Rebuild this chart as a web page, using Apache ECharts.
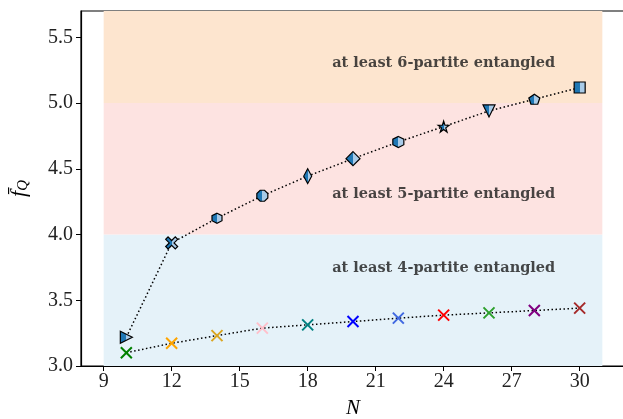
<!DOCTYPE html>
<html>
<head>
<meta charset="utf-8">
<script src="https://cdn.jsdelivr.net/npm/echarts@6/dist/echarts.min.js"></script>
<style>
  html, body { margin: 0; padding: 0; background: #ffffff; }
  #chart { width: 623px; height: 419px; }
</style>
</head>
<body>
<div id="chart"></div>
<script>
// Number of qubits N
const nValues = [10, 12, 14, 16, 18, 20, 22, 24, 26, 28, 30];
// Lower curve (cross markers)
const lowerValues = [3.101, 3.173, 3.231, 3.288, 3.313, 3.338, 3.364, 3.387, 3.404, 3.422, 3.440];
// Upper curve (half-filled markers)
const upperValues = [3.219, 3.936, 4.124, 4.295, 4.444, 4.577, 4.704, 4.821, 4.940, 5.029, 5.118];
// Entanglement depth regions: [from, to]
const regionBounds = [[3.0, 4.0], [4.0, 5.0], [5.0, 5.7]];
const regionTexts = ['at least 4-partite entangled', 'at least 5-partite entangled', 'at least 6-partite entangled'];
const regionTextX = [24, 24, 24];
const regionTextY = [3.74, 4.31, 5.30];
// Tick labels
const xTicks = [9, 12, 15, 18, 21, 24, 27, 30];
const yTicks = [3.0, 3.5, 4.0, 4.5, 5.0, 5.5];

// Styling
const crossColors = ['#008000', '#FFA500', '#DAA520', '#FFC0CB', '#008080', '#0000FF',
                     '#4169E1', '#FF0000', '#2CA02C', '#800080', '#A52A2A'];
const regionColors = ['#e5f2f9', '#fde3e1', '#fde5cf'];
const markerShapes = [
  'path://M0,0 L10,5 L0,10 Z',
  'path://M2,0 L5,3 L8,0 L10,2 L7,5 L10,8 L8,10 L5,7 L2,10 L0,8 L3,5 L0,2 Z',
  'path://M5,0 L9.33,2.5 L9.33,7.5 L5,10 L0.67,7.5 L0.67,2.5 Z',
  'path://M3,0 L7,0 L10,3 L10,7 L7,10 L3,10 L0,7 L0,3 Z',
  'path://M5,0 L10,5 L5,10 L0,5 Z',
  'path://M5,0 L10,5 L5,10 L0,5 Z',
  'path://M5,0 L9.33,2.5 L9.33,7.5 L5,10 L0.67,7.5 L0.67,2.5 Z',
  'path://M5,0 L6.18,3.82 L10,3.82 L6.91,6.18 L8.09,10 L5,7.64 L1.91,10 L3.09,6.18 L0,3.82 L3.82,3.82 Z',
  'path://M0,0 L10,0 L5,10 Z',
  'path://M5,0 L10,3.8 L8.1,10 L1.9,10 L0,3.8 Z',
  'path://M0,0 L10,0 L10,10 L0,10 Z'
];
const markerSizes = [[12, 12], [12, 12], [10, 10], [11, 11], [8, 15], [14, 14],
                     [11, 11], [11, 11], [12, 12], [11, 10], [11, 11]];
const halfFill = {
  type: 'linear', x: 0, y: 0, x2: 1, y2: 0,
  colorStops: [
    { offset: 0, color: '#1f77b4' }, { offset: 0.5, color: '#1f77b4' },
    { offset: 0.5, color: '#a9cbe8' }, { offset: 1, color: '#a9cbe8' }
  ]
};

const serif = '"Liberation Serif", "DejaVu Serif", serif';

const lowerData = nValues.map((n, i) => ({
  value: [n, lowerValues[i]],
  itemStyle: { color: 'rgba(0,0,0,0)', borderColor: crossColors[i], borderWidth: 2 }
}));
const upperData = nValues.map((n, i) => ({
  value: [n, upperValues[i]],
  symbol: markerShapes[i],
  symbolSize: markerSizes[i]
}));
const regionAreas = regionBounds.map((b, i) => [
  { xAxis: 9, yAxis: b[0], itemStyle: { color: regionColors[i] } },
  { xAxis: 31, yAxis: b[1] }
]);
const textData = regionTexts.map((t, i) => ({ value: [regionTextX[i], regionTextY[i]], name: t }));

const chart = echarts.init(document.getElementById('chart'), null, { renderer: 'canvas' });
chart.setOption({
  animation: false,
  backgroundColor: '#ffffff',
  grid: {
    left: 81, right: -2, top: 11, bottom: 53,
    show: true, borderColor: '#000000', borderWidth: 1.2,
    containLabel: false, outerBoundsMode: 'none'
  },
  xAxis: {
    type: 'value', min: 8, max: 32,
    name: 'N', nameLocation: 'middle', nameGap: 32,
    nameTextStyle: { fontFamily: serif, fontStyle: 'italic', fontSize: 21, color: '#000' },
    axisLine: { show: true, lineStyle: { color: '#000', width: 1.2 } },
    axisTick: { show: true, length: 5, customValues: xTicks, lineStyle: { color: '#000', width: 1 } },
    axisLabel: { customValues: xTicks, fontFamily: serif, fontSize: 20, color: '#222', margin: 6 },
    splitLine: { show: false }
  },
  yAxis: {
    type: 'value', min: 3.0, max: 5.7,
    name: '{f|f\u0304}{q|Q}', nameLocation: 'middle', nameGap: 50, nameRotate: 90,
    nameTextStyle: {
      rich: {
        f: { fontFamily: serif, fontStyle: 'italic', fontSize: 22, color: '#000' },
        q: { fontFamily: serif, fontStyle: 'italic', fontSize: 15, color: '#000', padding: [8, 0, 0, 0] }
      }
    },
    axisLine: { show: true, lineStyle: { color: '#000', width: 1.2 } },
    axisTick: { show: true, length: 5, customValues: yTicks, lineStyle: { color: '#000', width: 1 } },
    axisLabel: {
      customValues: yTicks, fontFamily: serif, fontSize: 20, color: '#222', margin: 8,
      formatter: v => v.toFixed(1)
    },
    splitLine: { show: false }
  },
  series: [
    {
      type: 'line', name: 'regions', data: [], silent: true,
      markArea: { silent: true, data: regionAreas }
    },
    {
      type: 'line', name: 'lower', data: lowerData, z: 3,
      symbol: 'path://M0,0 L10,10 M10,0 L0,10', symbolSize: 11, showAllSymbol: true,
      lineStyle: { color: '#000', width: 1.5, type: [1.5, 2.5] }
    },
    {
      type: 'line', name: 'upper', data: upperData, z: 3,
      showAllSymbol: true,
      itemStyle: { color: halfFill, borderColor: '#000', borderWidth: 1.2 },
      lineStyle: { color: '#000', width: 1.5, type: [1.5, 2.5] }
    },
    {
      type: 'scatter', name: 'regionText', data: textData, symbolSize: 0, silent: true,
      label: {
        show: true, position: 'inside', formatter: p => p.name,
        fontFamily: '"DejaVu Serif", serif', fontWeight: 'bold', fontSize: 14.5, color: '#1a1a1a'
      }
    }
  ]
});
</script>
</body>
</html>
